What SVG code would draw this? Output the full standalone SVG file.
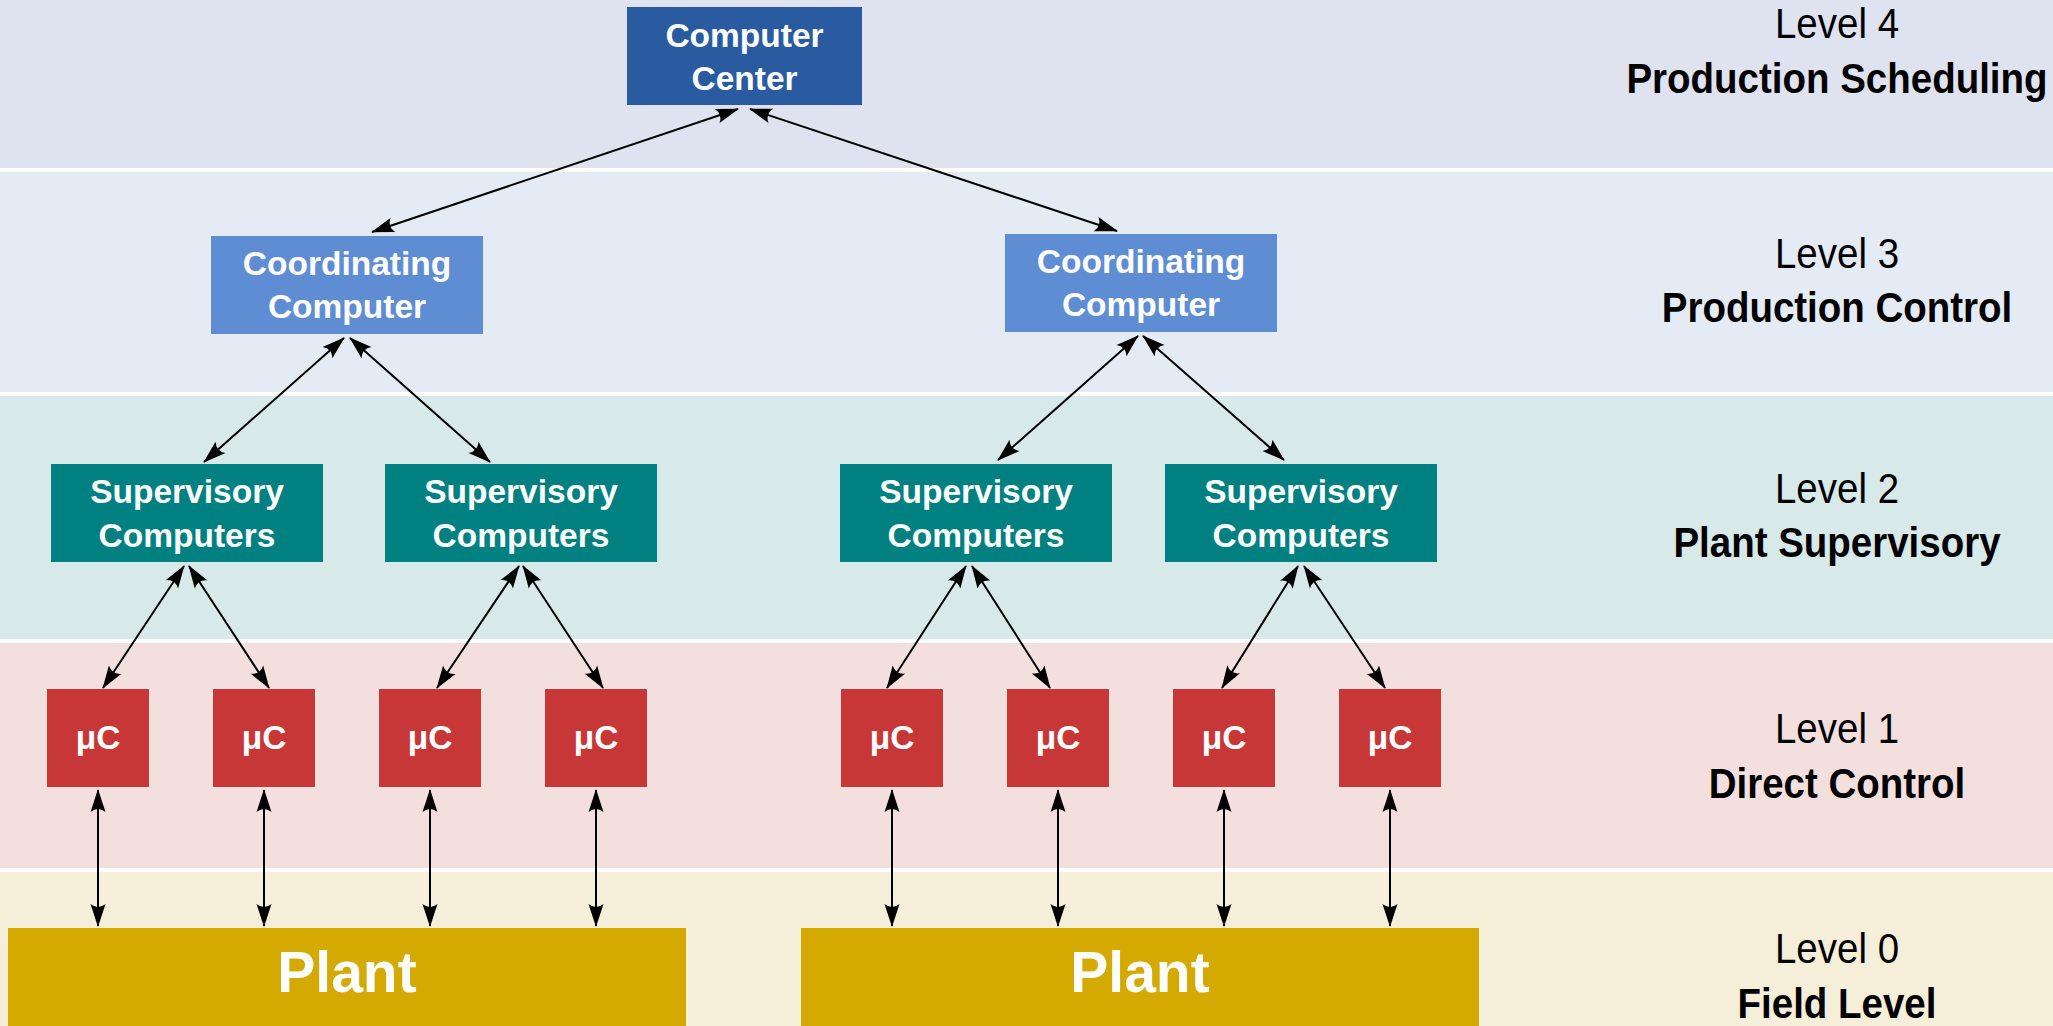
<svg xmlns="http://www.w3.org/2000/svg" width="2053" height="1026" viewBox="0 0 2053 1026">
  <defs>
    <style>
      .band4 { fill: #dee3ef; }
      .band3 { fill: #e4ebf5; }
      .band2 { fill: #d7e9e8; }
      .band1 { fill: #f4dfdf; }
      .band0 { fill: #f5efd9; }
      .center { fill: #2a5aa0; }
      .coord { fill: #5f8dd3; }
      .super { fill: #008080; }
      .micro { fill: #c83737; }
      .plant { fill: #d4aa00; }
      .box text { font-family: "Liberation Sans", Arial, sans-serif; font-weight: bold; font-size: 33.5px; fill: #ffffff; text-anchor: middle; }
      .box text.big { font-size: 57px; }
      .lvl text { font-family: "Liberation Sans", Arial, sans-serif; font-size: 43px; fill: #000000; text-anchor: middle; }
      .lvl text.name { font-weight: bold; }
      .link { stroke: #000000; stroke-width: 2; fill: none; marker-start: url(#head); marker-end: url(#head); }
    </style>
    <marker id="head" markerUnits="userSpaceOnUse" orient="auto-start-reverse" refX="0" refY="0" markerWidth="30" markerHeight="20" overflow="visible">
      <path d="M1,0 L-22,-7.5 Q-16,0 -22,7.5 Z" fill="#000000"/>
    </marker>
  </defs>

  <!-- white page with the five level bands -->
  <rect x="0" y="0" width="2053" height="1026" fill="#ffffff"/>
  <g id="bands">
    <rect class="band4" x="0" y="0" width="2053" height="168"/>
    <rect class="band3" x="0" y="172" width="2053" height="220"/>
    <rect class="band2" x="0" y="396" width="2053" height="243"/>
    <rect class="band1" x="0" y="643" width="2053" height="225"/>
    <rect class="band0" x="0" y="872" width="2053" height="154"/>
  </g>

  <!-- level captions, narrowed horizontally -->
  <g id="levels" class="lvl" transform="translate(1837,0) scale(0.895,1)">
    <text x="0" y="38">Level 4</text>
    <text class="name" x="0" y="93">Production Scheduling</text>
    <text x="0" y="268">Level 3</text>
    <text class="name" x="0" y="322">Production Control</text>
    <text x="0" y="503">Level 2</text>
    <text class="name" x="0" y="557">Plant Supervisory</text>
    <text x="0" y="743">Level 1</text>
    <text class="name" x="0" y="798">Direct Control</text>
    <text x="0" y="963">Level 0</text>
    <text class="name" x="0" y="1018">Field Level</text>
  </g>

  <!-- bidirectional links -->
  <g id="connectors">
    <line class="link" x1="738" y1="109" x2="372" y2="232"/>
    <line class="link" x1="750" y1="109" x2="1117" y2="231"/>
    <line class="link" x1="344" y1="338" x2="204" y2="462"/>
    <line class="link" x1="350" y1="338" x2="490" y2="462"/>
    <line class="link" x1="1138" y1="336" x2="998" y2="460"/>
    <line class="link" x1="1143" y1="336" x2="1284" y2="460"/>
    <line class="link" x1="184" y1="566" x2="103" y2="688"/>
    <line class="link" x1="189" y1="566" x2="269" y2="688"/>
    <line class="link" x1="519" y1="566" x2="437" y2="688"/>
    <line class="link" x1="523" y1="566" x2="603" y2="688"/>
    <line class="link" x1="966" y1="566" x2="887" y2="688"/>
    <line class="link" x1="972" y1="566" x2="1050" y2="688"/>
    <line class="link" x1="1298" y1="566" x2="1222" y2="688"/>
    <line class="link" x1="1304" y1="566" x2="1385" y2="688"/>
    <line class="link" x1="98" y1="790" x2="98" y2="926"/>
    <line class="link" x1="264" y1="790" x2="264" y2="926"/>
    <line class="link" x1="430" y1="790" x2="430" y2="926"/>
    <line class="link" x1="596" y1="790" x2="596" y2="926"/>
    <line class="link" x1="892" y1="790" x2="892" y2="926"/>
    <line class="link" x1="1058" y1="790" x2="1058" y2="926"/>
    <line class="link" x1="1224" y1="790" x2="1224" y2="926"/>
    <line class="link" x1="1390" y1="790" x2="1390" y2="926"/>
  </g>

  <!-- level 4 -->
  <g id="computer-center" class="box">
    <rect class="center" x="627" y="7" width="235" height="98"/>
    <text x="744.5" y="47">Computer</text>
    <text x="744.5" y="90">Center</text>
  </g>

  <!-- level 3 -->
  <g id="coord-1" class="box">
    <rect class="coord" x="211" y="236" width="272" height="98"/>
    <text x="347" y="275">Coordinating</text>
    <text x="347" y="318">Computer</text>
  </g>
  <g id="coord-2" class="box">
    <rect class="coord" x="1005" y="234" width="272" height="98"/>
    <text x="1141" y="273">Coordinating</text>
    <text x="1141" y="316">Computer</text>
  </g>

  <!-- level 2 -->
  <g id="super-1" class="box">
    <rect class="super" x="51" y="464" width="272" height="98"/>
    <text x="187" y="503">Supervisory</text>
    <text x="187" y="547">Computers</text>
  </g>
  <g id="super-2" class="box">
    <rect class="super" x="385" y="464" width="272" height="98"/>
    <text x="521" y="503">Supervisory</text>
    <text x="521" y="547">Computers</text>
  </g>
  <g id="super-3" class="box">
    <rect class="super" x="840" y="464" width="272" height="98"/>
    <text x="976" y="503">Supervisory</text>
    <text x="976" y="547">Computers</text>
  </g>
  <g id="super-4" class="box">
    <rect class="super" x="1165" y="464" width="272" height="98"/>
    <text x="1301" y="503">Supervisory</text>
    <text x="1301" y="547">Computers</text>
  </g>

  <!-- level 1 -->
  <g id="uc-1" class="box"><rect class="micro" x="47" y="689" width="102" height="98"/><text x="98" y="749">μC</text></g>
  <g id="uc-2" class="box"><rect class="micro" x="213" y="689" width="102" height="98"/><text x="264" y="749">μC</text></g>
  <g id="uc-3" class="box"><rect class="micro" x="379" y="689" width="102" height="98"/><text x="430" y="749">μC</text></g>
  <g id="uc-4" class="box"><rect class="micro" x="545" y="689" width="102" height="98"/><text x="596" y="749">μC</text></g>
  <g id="uc-5" class="box"><rect class="micro" x="841" y="689" width="102" height="98"/><text x="892" y="749">μC</text></g>
  <g id="uc-6" class="box"><rect class="micro" x="1007" y="689" width="102" height="98"/><text x="1058" y="749">μC</text></g>
  <g id="uc-7" class="box"><rect class="micro" x="1173" y="689" width="102" height="98"/><text x="1224" y="749">μC</text></g>
  <g id="uc-8" class="box"><rect class="micro" x="1339" y="689" width="102" height="98"/><text x="1390" y="749">μC</text></g>

  <!-- level 0 -->
  <g id="plant-1" class="box">
    <rect class="plant" x="8" y="928" width="678" height="110"/>
    <text class="big" x="347" y="992">Plant</text>
  </g>
  <g id="plant-2" class="box">
    <rect class="plant" x="801" y="928" width="678" height="110"/>
    <text class="big" x="1140" y="992">Plant</text>
  </g>
</svg>
